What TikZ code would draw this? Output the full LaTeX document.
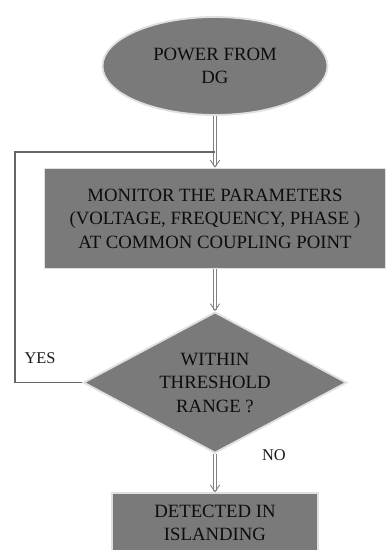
\documentclass[tikz,border=0pt]{standalone}
\usepackage{fontspec}
\setmainfont{Liberation Serif}
\usetikzlibrary{positioning,arrows.meta,shapes.geometric}

\begin{document}
\begin{tikzpicture}[
  font=\fontsize{16}{20}\selectfont,
  node distance=1.5cm,
  block/.style={draw=black!12, line width=1.6pt, fill=black!52, text=black!95, align=center, inner sep=2pt},
  startnode/.style={block, ellipse, minimum width=6.75cm, minimum height=2.94cm},
  procbox/.style={block, rectangle, minimum width=10.23cm, minimum height=3cm},
  decision/.style={block, diamond, minimum width=7.9cm, minimum height=4.23cm, aspect=1.87},
  flow/.style={double=white, double distance=1.5pt, draw=black!50, line width=0.75pt, -{Straight Barb[length=2mm, width=2.8mm]}},
  loopline/.style={draw=black!60, line width=0.9pt},
  tag/.style={font=\fontsize{14}{16}\selectfont, text=black!90}
]
\useasboundingbox (0,0) rectangle (11.7,-16.5);
% flowchart nodes
\node[startnode] (power) at (6.45,-1.98) {POWER FROM\\DG};
\node[procbox, below=1.55cm of power] (monitor) {MONITOR THE PARAMETERS\\(VOLTAGE, FREQUENCY, PHASE )\\AT COMMON COUPLING POINT};
\node[decision, below=1.25cm of monitor] (check) {WITHIN\\THRESHOLD\\RANGE ?};
\node[block, rectangle, minimum width=6.2cm, minimum height=1.77cm, below=1.15cm of check] (island) {DETECTED IN\\ISLANDING};
% connectors
\draw[flow] (power) -- (monitor);
\draw[flow] (monitor) -- (check);
\draw[flow] (check) -- (island);
\coordinate (corner) at (0.45,-4.56);
\draw[loopline] (check.west) -| (corner) -- (corner -| power.south);
% branch labels
\node[tag] (yes) at (1.2,-10.75) {YES};
\node[tag] (no) at (8.22,-13.65) {NO};
\end{tikzpicture}
\end{document}
